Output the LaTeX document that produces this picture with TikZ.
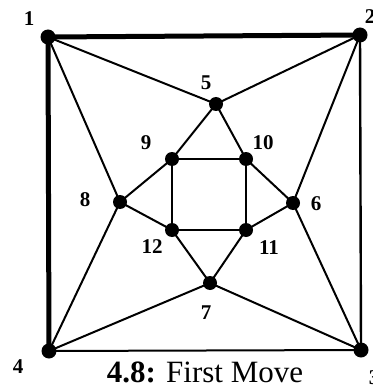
\documentclass[tikz,border=0pt]{standalone}
\usepackage{fontspec}
\setmainfont{Liberation Serif}
\begin{document}
\begin{tikzpicture}[x=1pt,y=-1pt,
  vtx/.style={circle,fill=black,inner sep=0pt,minimum size=15pt},
  ivtx/.style={circle,fill=black,inner sep=0pt,minimum size=14pt},
  lbl/.style={font=\fontsize{21}{24}\selectfont\bfseries,inner sep=0pt},
  edge/.style={line width=2pt},
  thick edge/.style={line width=5pt}]
\useasboundingbox (0,0) rectangle (372,390);
\node[vtx] (v1) at (48,37) {};
\node[vtx] (v2) at (360,35) {};
\node[vtx] (v3) at (361,350) {};
\node[vtx] (v4) at (49,351) {};
\node[ivtx] (v5) at (216,104) {};
\node[ivtx] (v6) at (293,203) {};
\node[ivtx] (v7) at (210,283) {};
\node[ivtx] (v8) at (120,202) {};
\node[ivtx] (v9) at (172,159) {};
\node[ivtx] (v10) at (246,159) {};
\node[ivtx] (v11) at (246,230) {};
\node[ivtx] (v12) at (172,230) {};
\draw[thick edge] (v4.center) -- (v1.center) -- (v2.center);
\draw[line width=2.4pt] (v2.center) -- (v3.center);
\draw[edge] (v3.center) -- (v4.center);
\foreach \a/\b in {1/5,2/5,1/8,4/8,2/6,3/6,4/7,3/7,5/9,5/10,9/10,10/11,11/12,12/9,8/9,8/12,6/10,6/11,7/12,7/11}
  \draw[edge] (v\a.center) -- (v\b.center);
\node[lbl] (l1) at (29,19) {1};
\node[lbl] (l2) at (370,17) {2};
\node[lbl] (l3) at (374,378) {3};
\node[lbl] (l4) at (18,367) {4};
\node[lbl] (l5) at (206,83) {5};
\node[lbl] (l6) at (316,204) {6};
\node[lbl] (l7) at (206,313) {7};
\node[lbl] (l8) at (85,200) {8};
\node[lbl] (l9) at (146,143) {9};
\node[lbl] (l10) at (263,143) {10};
\node[lbl] (l11) at (269,248) {11};
\node[lbl] (l12) at (152,247) {12};
\node[inner sep=0pt,anchor=base,font=\fontsize{31}{34}\selectfont] (cap) at (205,382) {\textbf{4.8:} First Move};
\end{tikzpicture}
\end{document}
